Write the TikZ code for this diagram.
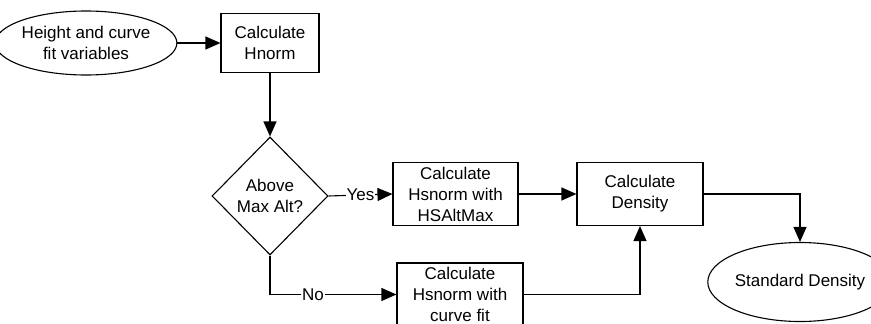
\documentclass[tikz,border=0pt]{standalone}
\usepackage{fontspec}
\setmainfont{Liberation Sans}
\usetikzlibrary{shapes.geometric,arrows.meta}
\begin{document}
\begin{tikzpicture}[x=1pt,y=-1pt,
  every node/.style={font=\fontsize{17pt}{21pt}\selectfont, align=center, inner sep=0pt},
  procbox/.style={draw, line width=1.1pt, rectangle},
  term/.style={draw, line width=1.1pt, ellipse},
  decide/.style={draw, line width=1.1pt, diamond, minimum width=116pt, minimum height=118pt},
  conn/.style={line width=1.1pt, -{Triangle[length=15pt,width=13pt]}},
  lbl/.style={fill=white, inner sep=1pt}
]
\useasboundingbox (0,0) rectangle (871,324);
\node[term, minimum width=153pt, minimum height=64pt] (inp) at (86,43) {Height and curve\\fit variables};
\node[procbox, minimum width=98pt, minimum height=59pt] (hnorm) at (270,43) {Calculate\\Hnorm};
\node[decide] (dia) at (270,196) {Above\\Max Alt?};
\node[procbox, minimum width=125pt, minimum height=63pt] (yes) at (455.5,194) {Calculate\\Hsnorm with\\HSAltMax};
\node[procbox, minimum width=126pt, minimum height=63pt] (no) at (460,294.5) {Calculate\\Hsnorm with\\curve fit};
\node[procbox, minimum width=126pt, minimum height=63pt] (dens) at (640,194) {Calculate\\Density};
\node[term, minimum width=144pt, minimum height=79pt] (std) at (800,282) {Standard Density};

\draw[conn] (inp) -- (hnorm);
\draw[conn] (hnorm) -- (dia);
\draw[conn] (dia.east) -- node[lbl] {Yes} (yes.west);
\draw[conn] (dia.south) |- node[lbl, pos=0.67] {No} (no.west);
\draw[conn] (yes.east) -- (dens.west);
\draw[conn] (no.east) -| (dens.south);
\draw[conn] (dens.east) -| (std.north);
\end{tikzpicture}
\end{document}
